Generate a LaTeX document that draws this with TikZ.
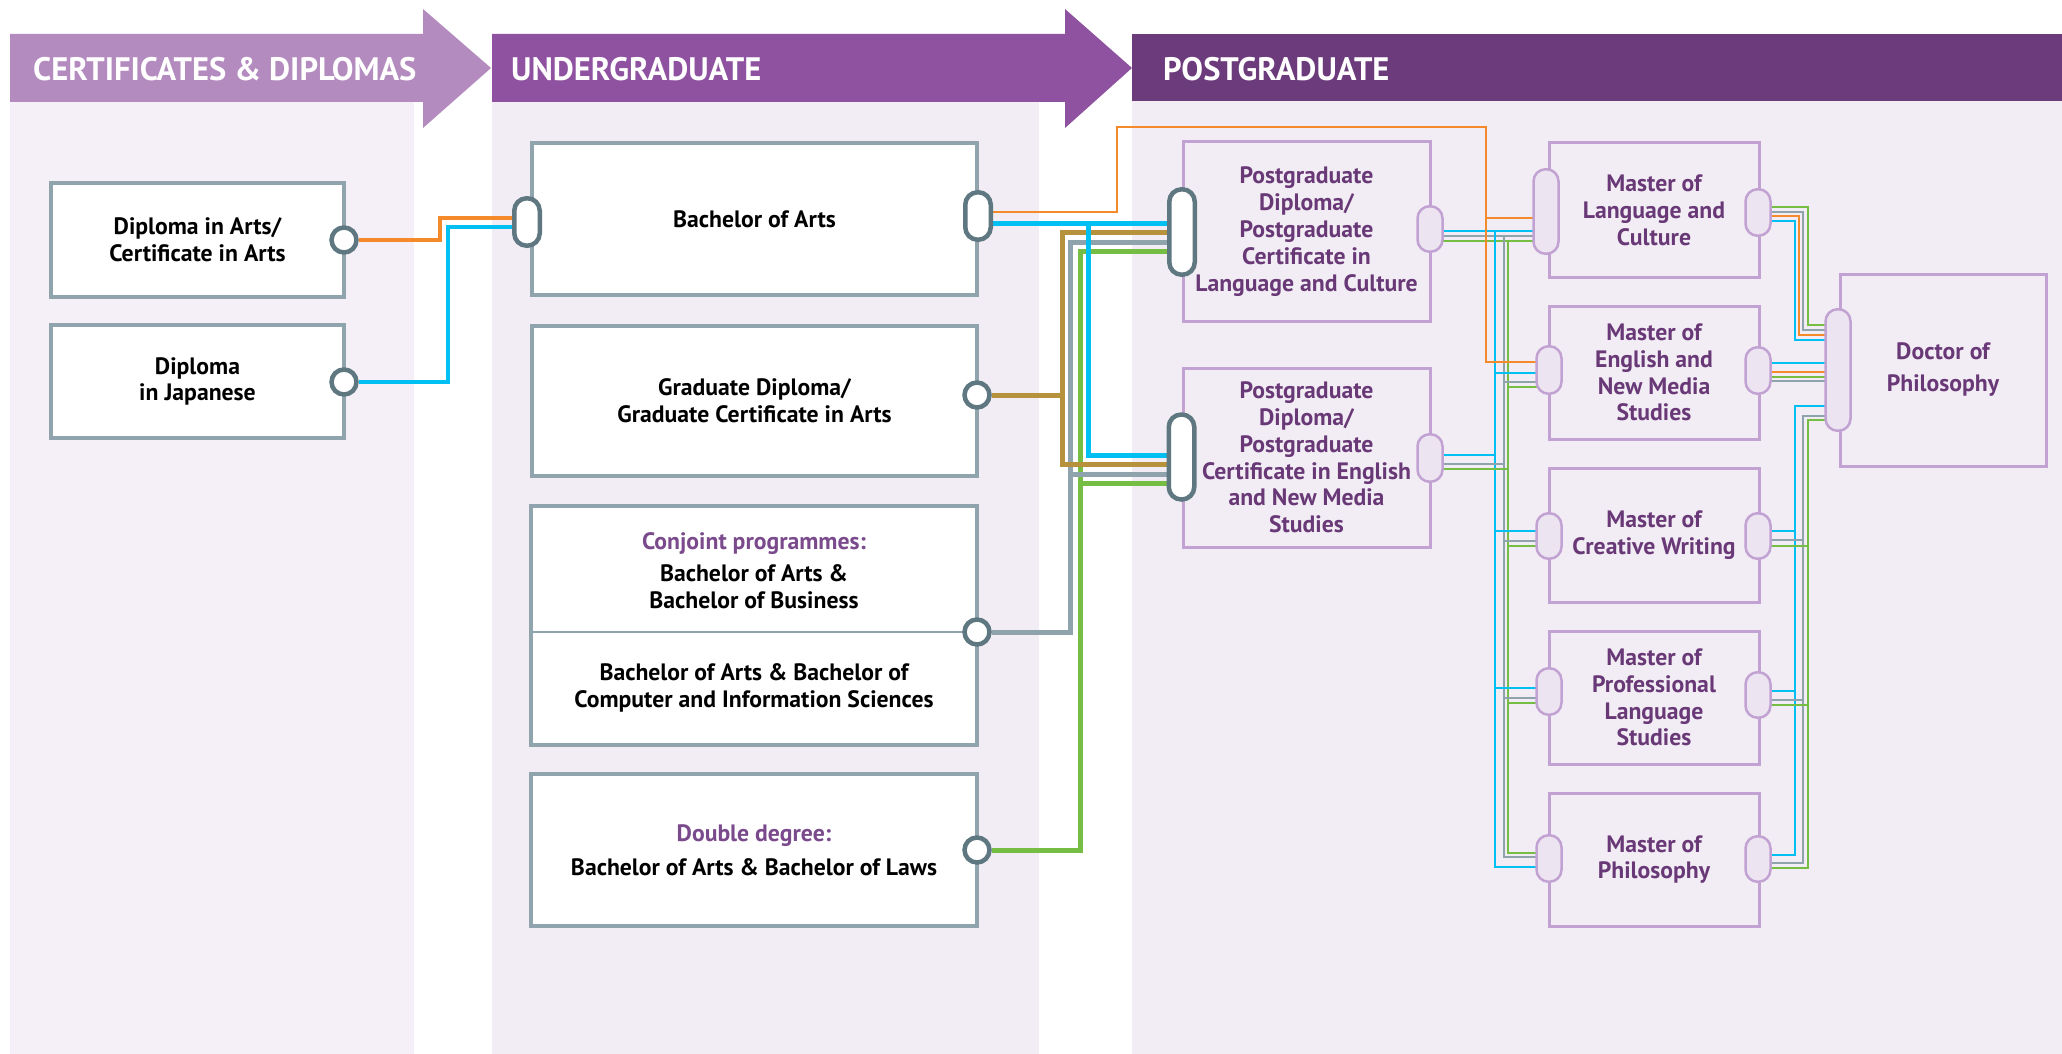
\documentclass[tikz,border=0pt]{standalone}
\usepackage{fontspec}
\setmainfont{PT Sans}
\definecolor{hdrA}{HTML}{B38BBE}
\definecolor{hdrB}{HTML}{8E52A0}
\definecolor{hdrC}{HTML}{6B3B7B}
\definecolor{bgA}{HTML}{F5F0F7}
\definecolor{bgB}{HTML}{F2EDF4}
\definecolor{bgC}{HTML}{F2EDF4}
\definecolor{ugborder}{HTML}{8FA4AD}
\definecolor{dpillc}{HTML}{5E7781}
\definecolor{pgborder}{HTML}{C2A2D2}
\definecolor{lpfill}{HTML}{ECE4F1}
\definecolor{pgtext}{HTML}{693977}
\definecolor{cjtext}{HTML}{7A4A8C}
\definecolor{cOr}{HTML}{F58A2B}
\definecolor{cBl}{HTML}{00BFF2}
\definecolor{cGo}{HTML}{B6923D}
\definecolor{cGr}{HTML}{8FA3AC}
\definecolor{cGn}{HTML}{76BD43}
\newcommand\myHdr{\fontsize{32.5}{38}\selectfont\bfseries}
\newcommand\myUG{\fontsize{23.7}{26.8}\selectfont\bfseries}
\pgfdeclarelayer{bglayer}
\pgfdeclarelayer{lnlayer}
\pgfsetlayers{bglayer,lnlayer,main}
\tikzset{
  ugbox/.style={draw=ugborder, line width=4, fill=white, rectangle, inner sep=0, text=black, font=\myUG, align=center},
  pgbox/.style={draw=pgborder, line width=3, rectangle, inner sep=0, text=pgtext, font=\myUG, align=center},
  txt/.style={inner sep=0, font=\myUG, align=center},
  hdrtxt/.style={inner sep=0, font=\myHdr, text=white, anchor=base west},
  ugcirc/.style={circle, draw=dpillc, line width=4.5, fill=white, minimum size=25, inner sep=0},
  dpill/.style={rectangle, draw=dpillc, line width=4.5, fill=white, minimum width=25.5, minimum height=#1, rounded corners=12.5, inner sep=0},
  lpill/.style={rectangle, draw=pgborder, line width=2.5, fill=lpfill, minimum width=25, minimum height=#1, rounded corners=12, inner sep=0},
  thk/.style={draw=#1, line width=5},
  med/.style={draw=#1, line width=3.3},
  thn/.style={draw=#1, line width=2.4},
}
\begin{document}
\begin{tikzpicture}[x=1pt, y=-1pt]
\useasboundingbox (0,0) rectangle (2062,1054);
% ---------- backgrounds and header ----------
\begin{pgfonlayer}{bglayer}
\fill[bgA] (10,102) rectangle (414,1054);
\fill[bgB] (492,102) rectangle (1039,1054);
\fill[bgC] (1132,101) rectangle (2062,1054);
\fill[hdrA] (10,34) -- (423,34) -- (423,9) -- (491,68) -- (423,128) -- (423,102) -- (10,102) -- cycle;
\fill[hdrB] (492,34) -- (1065,34) -- (1065,9) -- (1132,68) -- (1065,128) -- (1065,102) -- (492,102) -- cycle;
\fill[hdrC] (1132,34) rectangle (2062,101);
\end{pgfonlayer}
\node[hdrtxt] (h1) at (33,81) {CERTIFICATES \& DIPLOMAS};
\node[hdrtxt] (h2) at (511,81) {UNDERGRADUATE};
\node[hdrtxt] (h3) at (1163,81) {POSTGRADUATE};
% ---------- undergraduate boxes ----------
\node[ugbox, minimum width=293, minimum height=114] (dipA) at (197.5,240) {Diploma in Arts/\\Certificate in Arts};
\node[ugbox, minimum width=293, minimum height=113] (dipJ) at (197.5,381.5) {Diploma\\in Japanese};
\node[ugbox, minimum width=445, minimum height=152] (ba) at (754.5,219) {Bachelor of Arts};
\node[ugbox, minimum width=445, minimum height=150] (gd) at (754.5,401) {Graduate Diploma/\\Graduate Certificate in Arts};
\node[ugbox, minimum width=446, minimum height=239] (cj) at (754,625.5) {};
\draw[ugborder, line width=1.5] (cj.west |- 0,632) -- (cj.east |- 0,632);
\node[txt] (cjt) at (754,571) {{\color{cjtext}Conjoint programmes:}\\[5pt]Bachelor of Arts \&\\Bachelor of Business};
\node[txt] (cjb) at (754,688) {Bachelor of Arts \& Bachelor of\\Computer and Information Sciences};
\node[ugbox, minimum width=446, minimum height=152] (dd) at (754,850) {{\color{cjtext}Double degree:}\\[7pt]Bachelor of Arts \& Bachelor of Laws};
% circles and dark pills
\node[ugcirc] (cA) at (344,240) {};
\node[ugcirc] (cJ) at (344,382) {};
\node[ugcirc] (cGD) at (977,395) {};
\node[ugcirc] (cCJ) at (977,632) {};
\node[ugcirc] (cDD) at (977,850) {};
\node[dpill=47.5] (pBAl) at (527,222) {};
\node[dpill=47.5] (pBAr) at (978,216) {};
% ---------- postgraduate boxes ----------
\node[pgbox, minimum width=247, minimum height=179] (pg1) at (1306.5,231.5) {Postgraduate\\Diploma/\\Postgraduate\\Certificate in\\Language and Culture};
\node[pgbox, minimum width=247, minimum height=179] (pg2) at (1306.5,457.5) {Postgraduate\\Diploma/\\Postgraduate\\Certificate in English\\and New Media\\Studies};
\node[pgbox, minimum width=210, minimum height=134] (mlc) at (1654,210) {Master of\\Language and\\Culture};
\node[pgbox, minimum width=210, minimum height=133] (men) at (1654,372.5) {Master of\\English and\\New Media\\Studies};
\node[pgbox, minimum width=210, minimum height=134] (mcw) at (1654,535) {Master of\\Creative Writing};
\node[pgbox, minimum width=210, minimum height=133] (mpl) at (1654,697.5) {Master of\\Professional\\Language\\Studies};
\node[pgbox, minimum width=210, minimum height=133] (mph) at (1654,859.5) {Master of\\Philosophy};
\node[pgbox, minimum width=206, minimum height=192, font=\fontsize{23.7}{32}\selectfont\bfseries] (doc) at (1943,370) {Doctor of\\Philosophy};
\node[dpill=85.5] (pPG1) at (1182,232) {};
\node[dpill=85] (pPG2) at (1181.5,457) {};
\node[lpill=45.5] (qPG1r) at (1430,229) {};
\node[lpill=47.5] (qPG2r) at (1430,458) {};
\node[lpill=84.5] (qMLCl) at (1546,211.5) {};
\node[lpill=46.5] (qMLCr) at (1758,212.5) {};
\node[lpill=47.5] (qMENl) at (1549,370) {};
\node[lpill=46.5] (qMENr) at (1758,370.5) {};
\node[lpill=45.5] (qMCWl) at (1549,536) {};
\node[lpill=45.5] (qMCWr) at (1758,536) {};
\node[lpill=46.5] (qMPLl) at (1549,691.5) {};
\node[lpill=45.5] (qMPLr) at (1758,695) {};
\node[lpill=46.5] (qMPHl) at (1549,858.5) {};
\node[lpill=45.5] (qMPHr) at (1758,859) {};
\node[lpill=121.5] (qDOC) at (1838,370) {};
% junction coordinates
\coordinate (jOr) at (1486,218);
\coordinate (jBl) at (1088,223);
\coordinate (jGo) at (1062,395);
\coordinate (jGr) at (1070,474);
\coordinate (jGn) at (1080,483);
% ---------- connectors ----------
\begin{pgfonlayer}{lnlayer}
% certificates -> BA
\draw[med=cOr] (cA) -- (440,240) -- (440,218) -- (pBAl |- 0,218);
\draw[med=cBl] (cJ) -- (448,382) -- (448,227) -- (pBAl |- 0,227);
% undergraduate -> postgraduate diplomas
\draw[thk=cGn] (cDD) -- (1080,850) -- (1080,251) -- (pPG1 |- 0,251);
\draw[thk=cGn] (jGn) -- (pPG2 |- 0,483);
\draw[thk=cGr] (cCJ) -- (1070,632) -- (1070,242) -- (pPG1 |- 0,242);
\draw[thk=cGr] (jGr) -- (pPG2 |- 0,474);
\draw[thk=cGo] (cGD) -- (jGo) -- (1062,232) -- (pPG1 |- 0,232);
\draw[thk=cGo] (jGo) -- (1062,464) -- (pPG2 |- 0,464);
\draw[thk=cBl] (pBAr |- 0,223) -- (pPG1 |- 0,223);
\draw[thk=cBl] (jBl) -- (1088,455) -- (pPG2 |- 0,455);
% postgraduate diplomas -> masters (left trunk)
\draw[thn=cBl] (qPG1r |- 0,231) -- (qMLCl |- 0,231);
\draw[thn=cGr] (qPG1r |- 0,236) -- (qMLCl |- 0,236);
\draw[thn=cGn] (qPG1r |- 0,241) -- (qMLCl |- 0,241);
\draw[thn=cBl] (1495,231) -- (1495,867) -- (qMPHl |- 0,867);
\draw[thn=cGr] (1504,236) -- (1504,857) -- (qMPHl |- 0,857);
\draw[thn=cGn] (1508,241) -- (1508,853) -- (qMPHl |- 0,853);
\draw[thn=cBl] (qPG2r |- 0,455) -- (1495,455);
\draw[thn=cGr] (qPG2r |- 0,464) -- (1504,464);
\draw[thn=cGn] (qPG2r |- 0,469) -- (1508,469);
\draw[thn=cBl] (1495,373) -- (qMENl |- 0,373);
\draw[thn=cGr] (1504,382) -- (qMENl |- 0,382);
\draw[thn=cGn] (1508,387) -- (qMENl |- 0,387);
\draw[thn=cBl] (1495,531) -- (qMCWl |- 0,531);
\draw[thn=cGr] (1504,541) -- (qMCWl |- 0,541);
\draw[thn=cGn] (1508,546) -- (qMCWl |- 0,546);
\draw[thn=cBl] (1495,688) -- (qMPLl |- 0,688);
\draw[thn=cGr] (1504,698) -- (qMPLl |- 0,698);
\draw[thn=cGn] (1508,703) -- (qMPLl |- 0,703);
% orange BA -> masters
\draw[line width=2.7, cOr] (pBAr |- 0,212) -- (1117,212) -- (1117,127) -- (1486,127) -- (1486,362) -- (qMENl |- 0,362);
\draw[thn=cOr] (jOr) -- (qMLCl |- 0,218);
% masters -> doctor
\draw[thn=cGn] (qMLCr |- 0,207) -- (1808,207) -- (1808,325) -- (qDOC |- 0,325);
\draw[thn=cGr] (qMLCr |- 0,212) -- (1803,212) -- (1803,330) -- (qDOC |- 0,330);
\draw[thn=cOr] (qMLCr |- 0,216) -- (1799,216) -- (1799,335) -- (qDOC |- 0,335);
\draw[thn=cBl] (qMLCr |- 0,221) -- (1795,221) -- (1795,340) -- (qDOC |- 0,340);
\draw[thn=cBl] (qMENr |- 0,363) -- (qDOC |- 0,363);
\draw[thn=cOr] (qMENr |- 0,372) -- (qDOC |- 0,372);
\draw[thn=cGn] (qMENr |- 0,377) -- (qDOC |- 0,377);
\draw[thn=cGr] (qMENr |- 0,381) -- (qDOC |- 0,381);
\draw[thn=cBl] (qDOC |- 0,406) -- (1795,406) -- (1795,855) -- (qMPHr |- 0,855);
\draw[thn=cGr] (qDOC |- 0,416) -- (1803,416) -- (1803,863) -- (qMPHr |- 0,863);
\draw[thn=cGn] (qDOC |- 0,420) -- (1808,420) -- (1808,868) -- (qMPHr |- 0,868);
\draw[thn=cBl] (qMCWr |- 0,531) -- (1795,531);
\draw[thn=cGr] (qMCWr |- 0,540) -- (1803,540);
\draw[thn=cGn] (qMCWr |- 0,546) -- (1808,546);
\draw[thn=cBl] (qMPLr |- 0,691) -- (1795,691);
\draw[thn=cGr] (qMPLr |- 0,700) -- (1803,700);
\draw[thn=cGn] (qMPLr |- 0,705) -- (1808,705);
\end{pgfonlayer}
\end{tikzpicture}
\end{document}
